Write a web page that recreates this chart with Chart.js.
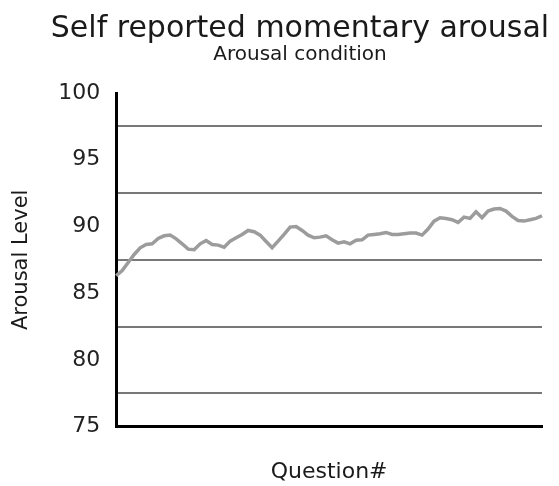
<!DOCTYPE html>
<html>
<head>
<meta charset="utf-8">
<script src="https://cdn.jsdelivr.net/npm/chart.js@4.4.1/dist/chart.umd.min.js"></script>
<style>
  html, body { margin: 0; padding: 0; background: #ffffff; overflow: hidden; width: 559px; height: 486px; }
  #wrap { width: 600px; height: 486px; }
</style>
</head>
<body>
<div id="wrap"><canvas id="c" width="600" height="486"></canvas></div>
<script>
const titleText = "Self reported momentary arousal";
const subtitleText = "Arousal condition";
const yAxisTitle = "Arousal Level";
const xAxisTitle = "Question#";
const yTicks = [75, 80, 85, 90, 95, 100];

const arousal = [
  86.3, 86.7, 87.3, 87.9, 88.4, 88.65, 88.7, 89.1, 89.3, 89.35,
  89.07, 88.7, 88.3, 88.25, 88.7, 88.95, 88.65, 88.6, 88.45, 88.9,
  89.15, 89.4, 89.7, 89.6, 89.35, 88.87, 88.4, 88.9, 89.4, 89.95,
  90.0, 89.7, 89.35, 89.15, 89.2, 89.3, 89.0, 88.75, 88.85, 88.7,
  88.96, 89.0, 89.35, 89.4, 89.45, 89.55, 89.4, 89.4, 89.45, 89.5,
  89.5, 89.35, 89.8, 90.4, 90.65, 90.6, 90.5, 90.3, 90.7, 90.6,
  91.1, 90.65, 91.15, 91.3, 91.35, 91.15, 90.75, 90.45, 90.4, 90.5,
  90.6, 90.8
];
const questions = arousal.map((_, i) => String(i + 1));

const FONT = "'DejaVu Sans', 'Liberation Sans', sans-serif";

new Chart(document.getElementById('c'), {
  type: 'line',
  data: {
    labels: questions,
    datasets: [{
      data: arousal,
      yAxisID: 'y',
      borderColor: '#9c9c9c',
      borderWidth: 3.5,
      pointRadius: 0,
      tension: 0,
      fill: false
    }]
  },
  options: {
    responsive: false,
    animation: false,
    devicePixelRatio: 1,
    layout: { padding: { left: 0, right: 0, top: 0, bottom: 0 } },
    plugins: {
      legend: { display: false },
      tooltip: { enabled: false },
      title: {
        display: true,
        text: titleText,
        color: '#1a1a1a',
        font: { family: FONT, size: 30, weight: 'normal', lineHeight: 1 },
        padding: { top: 14, bottom: 1 }
      },
      subtitle: {
        display: true,
        text: subtitleText,
        color: '#1a1a1a',
        font: { family: FONT, size: 20, weight: 'normal', lineHeight: 1 },
        padding: { top: 0, bottom: 28 }
      }
    },
    scales: {
      x: {
        offset: false,
        grid: { display: false, drawTicks: false },
        border: { display: true, color: '#000000', width: 3 },
        ticks: { display: false },
        title: {
          display: true,
          text: xAxisTitle,
          color: '#1a1a1a',
          font: { family: FONT, size: 22, weight: 'normal', lineHeight: 1.2 },
          padding: { top: 32, bottom: 1 }
        }
      },
      y: {
        position: 'left',
        min: yTicks[0],
        max: yTicks[yTicks.length - 1],
        afterBuildTicks: (scale) => { scale.ticks = yTicks.map(v => ({ value: v })); },
        grid: { offset: true, drawTicks: false, color: '#787878', lineWidth: 2 },
        border: { display: true, color: '#000000', width: 3 },
        ticks: {
          color: '#222222',
          padding: 16,
          font: { family: FONT, size: 22, weight: 'normal' }
        },
        title: {
          display: true,
          text: yAxisTitle,
          color: '#1a1a1a',
          font: { family: FONT, size: 21, weight: 'normal', lineHeight: 1.2 },
          padding: { top: 9, bottom: 8 }
        }
      },
      yRight: {
        position: 'right',
        display: true,
        grid: { display: false, drawTicks: false },
        border: { display: false },
        ticks: { display: false },
        afterFit: (scale) => { scale.width = 58; }
      }
    }
  }
});
</script>
</body>
</html>
